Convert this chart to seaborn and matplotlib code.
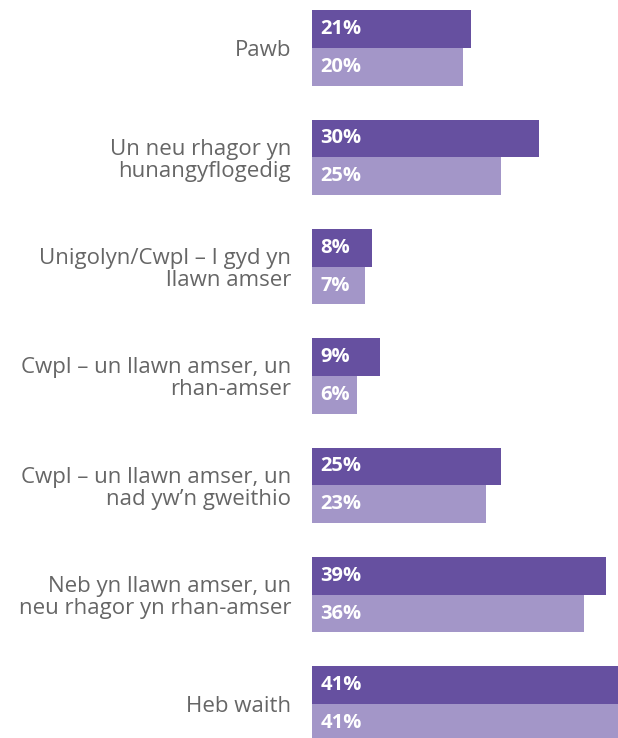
import pandas as pd
import seaborn as sns
import matplotlib.pyplot as plt

categories = [
    "Pawb",
    "Un neu rhagor yn\nhunangyflogedig",
    "Unigolyn/Cwpl \u2013 I gyd yn\nllawn amser",
    "Cwpl \u2013 un llawn amser, un\nrhan-amser",
    "Cwpl \u2013 un llawn amser, un\nnad yw\u2019n gweithio",
    "Neb yn llawn amser, un\nneu rhagor yn rhan-amser",
    "Heb waith",
]
series_names = ["Cyfres 1", "Cyfres 2"]
series_1 = [21, 30, 8, 9, 25, 39, 41]
series_2 = [20, 25, 7, 6, 23, 36, 41]
colors = ["#6650A0", "#A396C8"]


def build_frame() -> pd.DataFrame:
    rows = []
    for name, vals in zip(series_names, [series_1, series_2]):
        for cat, v in zip(categories, vals):
            rows.append({"category": cat, "series": name, "value": v})
    return pd.DataFrame(rows)


def main() -> None:
    df = build_frame()
    sns.set_style("white")
    plt.rcParams['font.family'] = ['Open Sans', 'DejaVu Sans']

    fig = plt.figure(figsize=(6.18, 7.38), dpi=100)
    ax = fig.add_axes([312 / 618, 0, 306 / 618, 1])
    sns.barplot(data=df, y="category", x="value", hue="series",
                palette=colors, width=0.69, orient="h", legend=False,
                saturation=1, linewidth=0, ax=ax)

    for cont in ax.containers:
        for bar in cont:
            w = bar.get_width()
            ax.annotate(f"{w:.0f}%", (0, bar.get_y() + bar.get_height() / 2),
                        xytext=(6, 0), textcoords="offset points",
                        ha="left", va="center", color="white",
                        fontsize=14.5, fontweight="bold")

    ax.set_xlim(0, 306 / 7.55)
    ax.set_ylim(6.311, -0.439)
    ax.set_xlabel("")
    ax.set_ylabel("")
    ax.set_xticks([])
    ax.tick_params(axis="y", length=0, pad=15, labelsize=16, labelcolor="#666666")
    for lab in ax.get_yticklabels():
        lab.set_horizontalalignment("right")
        lab.set_linespacing(1.05)
    sns.despine(ax=ax, left=True, bottom=True)

    fig.savefig("out.png", dpi=100)


if __name__ == '__main__':
    main()
